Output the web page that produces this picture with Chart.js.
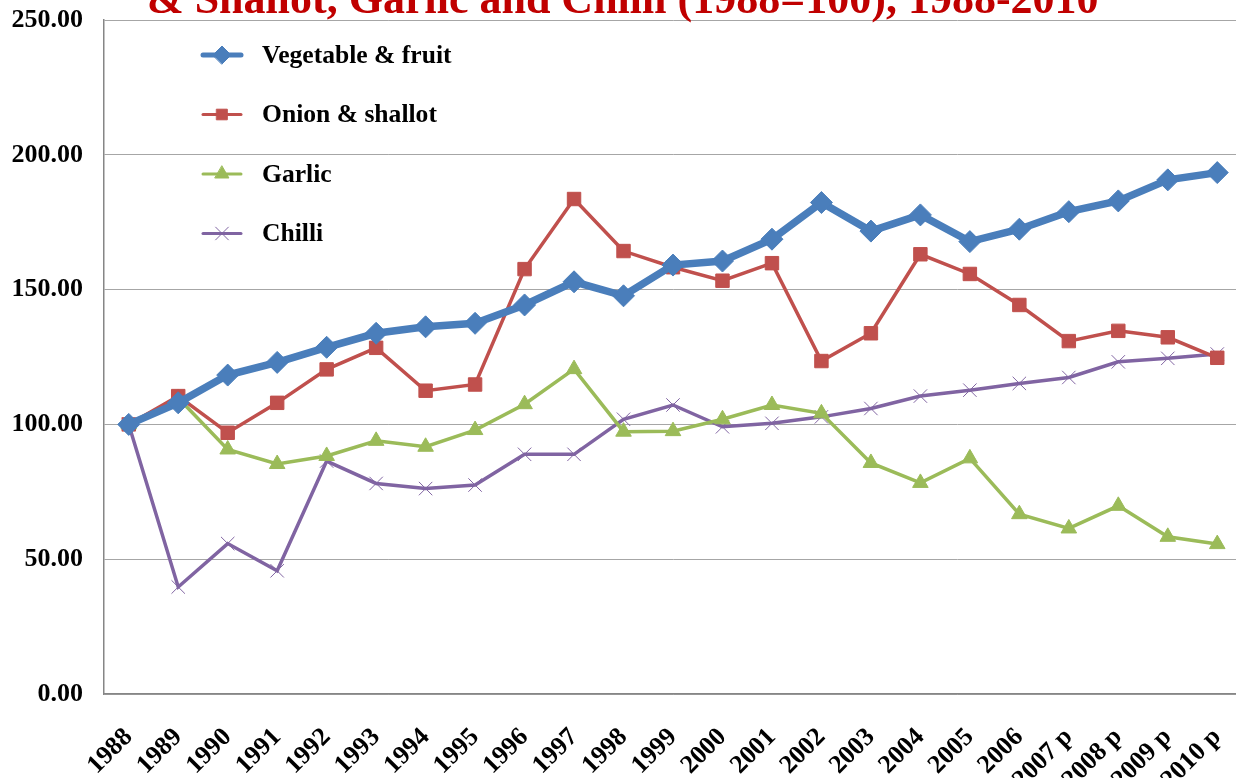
<!DOCTYPE html>
<html>
<head>
<meta charset="utf-8">
<script src="https://cdn.jsdelivr.net/npm/chart.js@4.4.0/dist/chart.umd.min.js"></script>
<style>
  html, body { margin: 0; padding: 0; background: #fff; overflow: hidden; }
  #wrap { width: 1254px; height: 778px; }
</style>
</head>
<body>
<div id="wrap"><canvas id="priceChart" width="1254" height="778"></canvas></div>
<script>
const years = ['1988', '1989', '1990', '1991', '1992', '1993', '1994', '1995', '1996', '1997', '1998', '1999',
  '2000', '2001', '2002', '2003', '2004', '2005', '2006', '2007 p', '2008 p', '2009 p', '2010 p'];

const vegFruit = [100, 108, 118.3, 123, 128.6, 133.8, 136.2, 137.5, 144.3, 152.9, 147.7, 159.1,
  160.6, 168.7, 182.3, 171.7, 177.7, 167.8, 172.4, 178.9, 182.9, 190.7, 193.4];
const onionShallot = [100, 110.5, 96.9, 108, 120.4, 128.4, 112.5, 114.8, 157.6, 183.6, 164.3, 158.3,
  153.3, 159.8, 123.5, 133.8, 163.1, 155.8, 144.3, 130.9, 134.7, 132.3, 124.7];
const garlic = [100, 109.8, 90.7, 85.3, 88.3, 93.9, 91.7, 97.9, 107.5, 120.5, 97.3, 97.5,
  101.9, 107.2, 104.1, 85.7, 78.3, 87.4, 66.7, 61.4, 69.8, 58.3, 55.6];
const chilli = [100, 39.7, 55.8, 45.7, 86.4, 78.1, 76.2, 77.5, 88.9, 88.9, 101.9, 107.2,
  99.1, 100.4, 102.8, 105.9, 110.5, 112.7, 115.2, 117.4, 123.2, 124.5, 126.1];

const titleText = '& Shallot, Garlic and Chilli (1988=100), 1988-2010';
const serif = '"Liberation Serif", "Times New Roman", serif';

// title sits partly above the page edge, like the original slide crop
const titlePlugin = {
  id: 'cutTitle',
  afterDraw(chart) {
    const c = chart.ctx;
    c.save();
    c.font = 'bold 44px ' + serif;
    c.fillStyle = '#c00000';
    c.textAlign = 'left';
    c.textBaseline = 'alphabetic';
    c.fillText(titleText, 147, 13);
    c.restore();
  }
};

// legend inside the plot: line sample with its marker, then the label
const legendPlugin = {
  id: 'insideLegend',
  afterDraw(chart) {
    const c = chart.ctx;
    chart.data.datasets.forEach((ds, i) => {
      const y = 55 + i * 59.5;
      c.save();
      c.strokeStyle = ds.borderColor;
      c.lineWidth = i === 0 ? 5 : 3;
      c.lineCap = 'round';
      c.beginPath();
      c.moveTo(203, y);
      c.lineTo(241, y);
      c.stroke();
      c.fillStyle = ds.borderColor;
      c.lineWidth = ds.pointBorderWidth;
      Chart.helpers.drawPoint(c, {
        pointStyle: ds.pointStyle,
        radius: ds.legendRadius,
        rotation: 0,
        borderWidth: ds.pointBorderWidth
      }, 222, y);
      c.font = 'bold 25.6px ' + serif;
      c.fillStyle = '#000';
      c.textBaseline = 'middle';
      c.fillText(ds.label, 262, y + 1);
      c.restore();
    });
  }
};

const ctx = document.getElementById('priceChart').getContext('2d');
new Chart(ctx, {
  type: 'line',
  data: {
    labels: years,
    datasets: [{
      label: 'Vegetable & fruit',
      data: vegFruit,
      borderColor: '#4a7ebb',
      backgroundColor: '#4a7ebb',
      borderWidth: 7.5,
      pointStyle: 'rectRot',
      pointRadius: 11,
      pointBorderWidth: 1,
      legendRadius: 9
    }, {
      label: 'Onion & shallot',
      data: onionShallot,
      borderColor: '#c0504d',
      backgroundColor: '#c0504d',
      borderWidth: 3.5,
      pointStyle: 'rect',
      pointRadius: 9.5,
      pointBorderWidth: 1,
      legendRadius: 7.5
    }, {
      label: 'Garlic',
      data: garlic,
      borderColor: '#9bbb59',
      backgroundColor: '#9bbb59',
      borderWidth: 3.5,
      pointStyle: 'triangle',
      pointRadius: 9,
      pointBorderWidth: 1,
      legendRadius: 8
    }, {
      label: 'Chilli',
      data: chilli,
      borderColor: '#8064a2',
      backgroundColor: '#8064a2',
      borderWidth: 3.5,
      pointStyle: 'crossRot',
      pointRadius: 9.5,
      pointBorderWidth: 1,
      legendRadius: 9
    }]
  },
  options: {
    responsive: false,
    animation: false,
    layout: { padding: { top: 20, right: 2, left: 0, bottom: 0 } },
    elements: { line: { tension: 0 } },
    plugins: {
      legend: { display: false },
      tooltip: { enabled: false }
    },
    scales: {
      x: {
        offset: true,
        grid: { display: false },
        border: { display: true, color: '#868686', width: 1.5 },
        afterFit: (s) => { s.height = 84; s.paddingLeft = 0; s.paddingRight = 0; },
        ticks: {
          color: '#000',
          font: { family: serif, size: 26, weight: 'bold' },
          maxRotation: 45,
          minRotation: 45,
          autoSkip: false,
          padding: 20
        }
      },
      y: {
        min: 0,
        max: 250,
        afterFit: (s) => { s.width = 104; s.paddingTop = 0; s.paddingBottom = 0; },
        grid: { color: '#a6a6a6', lineWidth: 1, tickLength: 0 },
        border: { display: true, color: '#868686', width: 1.5 },
        ticks: {
          stepSize: 50,
          color: '#000',
          padding: 21,
          font: { family: serif, size: 26, weight: 'bold' },
          callback: (v) => v.toFixed(2)
        }
      }
    }
  },
  plugins: [titlePlugin, legendPlugin]
});
</script>
</body>
</html>
